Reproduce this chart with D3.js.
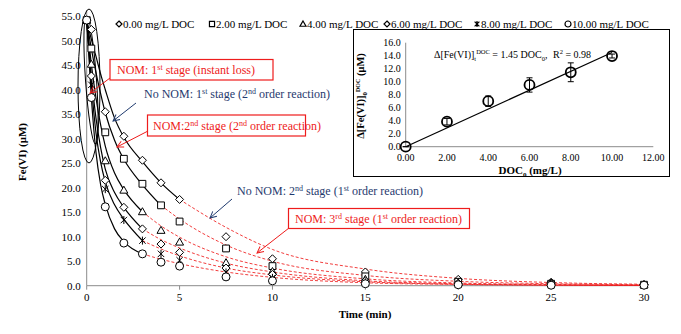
<!DOCTYPE html>
<html>
<head>
<meta charset="utf-8">
<script src="https://cdn.jsdelivr.net/npm/d3@7"></script>
<style>
  body { margin: 0; background: #fff; }
  svg { display: block; }
  svg text { font-family: "Liberation Serif", "Times New Roman", Times, "DejaVu Serif", serif; }
</style>
</head>
<body>
<svg id="chart" width="681" height="334"></svg>
<script>
// sampling times (min)
const times = [0, 0.25, 1, 2, 3, 4, 5, 7.5, 10, 15, 20, 25, 30];
const docLabels = ['0.00 mg/L DOC', '2.00 mg/L DOC', '4.00 mg/L DOC', '6.00 mg/L DOC', '8.00 mg/L DOC', '10.00 mg/L DOC'];
const markerKinds = ['diamond', 'square', 'triangle', 'diamond', 'asterisk', 'circle'];

// measured Fe(VI), uM
const fe0 = [54.2, 52.3, 35.5, 30.5, 25.6, 21.0, 17.6, 10.0, 5.5, 2.8, 1.3, 0.7, 0.2];
const fe2 = [54.2, 48.4, 31.3, 25.9, 20.8, 16.4, 13.1, 7.6, 4.0, 1.9, 0.8, 0.4, 0.2];
const fe4 = [54.2, 45.2, 25.5, 19.5, 15.1, 11.3, 8.9, 4.7, 2.9, 1.3, 0.6, 0.6, 0.2];
const fe6 = [54.2, 42.8, 21.5, 16.0, 11.6, 8.5, 6.8, 3.6, 2.3, 1.0, 0.5, 0.4, 0.2];
const fe8 = [54.2, 41.0, 19.7, 13.4, 9.2, 6.5, 5.2, 2.7, 1.6, 0.7, 0.3, 0.2, 0.1];
const fe10 = [54.2, 38.4, 16.1, 8.7, 6.5, 4.8, 4.0, 1.8, 1.0, 0.4, 0.2, 0.1, 0.1];

// early-stage fitted curves (solid black), [time, Fe(VI)]
const fit0 = [[0, 54.2], [0.25, 50.3], [0.5, 46.8], [0.8, 42.5], [1, 40.0], [1.5, 34.2], [2, 30.3], [3, 25.3], [4, 21.0], [5, 17.6]];
const fit2 = [[0, 54.2], [0.25, 48.4], [0.5, 43.5], [0.75, 39.2], [1, 35.3], [1.5, 29.7], [2, 25.8], [3, 20.6], [4, 16.4]];
const fit4 = [[0, 54.2], [0.25, 45.2], [0.5, 38.3], [0.75, 32.8], [1, 28.5], [1.5, 23.0], [2, 19.6], [3, 15.1]];
const fit6 = [[0, 54.2], [0.25, 42.8], [0.5, 34.2], [0.75, 28.2], [1, 23.8], [1.5, 19.0], [2, 16.0], [3, 11.6]];
const fit8 = [[0, 54.2], [0.25, 41.0], [0.5, 31.2], [0.75, 25.2], [1, 21.2], [1.5, 16.5], [2, 13.6], [3, 9.2]];
const fit10 = [[0, 54.2], [0.25, 38.4], [0.5, 27.2], [0.75, 20.6], [1, 16.6], [1.5, 11.6], [2, 9.0], [3, 6.5]];

// later-stage first-order curves (red dashed)
const tail0 = [[5, 17.6], [7.5, 11.9], [10, 7.4], [15, 3.4], [20, 1.5], [25, 0.65], [30, 0.3]];
const tail2 = [[4, 16.4], [5, 13.6], [7.5, 8.3], [10, 5.0], [15, 2.1], [20, 0.9], [25, 0.4], [30, 0.2]];
const tail4 = [[3, 15.1], [4, 12.2], [5, 9.9], [7.5, 5.9], [10, 3.6], [15, 1.4], [20, 0.55], [25, 0.25], [30, 0.1]];
const tail6 = [[3, 11.6], [4, 9.4], [5, 7.7], [7.5, 4.6], [10, 2.8], [15, 1.0], [20, 0.4], [25, 0.15], [30, 0.06]];
const tail8 = [[3, 9.2], [4, 7.5], [5, 6.1], [7.5, 3.6], [10, 2.2], [15, 0.8], [20, 0.3], [25, 0.1], [30, 0.05]];
const tail10 = [[3, 6.5], [4, 5.4], [5, 4.5], [7.5, 2.8], [10, 1.7], [15, 0.6], [20, 0.25], [25, 0.1], [30, 0.04]];

const yTicks = [0, 5, 10, 15, 20, 25, 30, 35, 40, 45, 50, 55];
const xTicks = [0, 5, 10, 15, 20, 25, 30];

// inset: Fe(VI) lost in the instant stage vs. initial DOC
const insetDoc = [0, 2, 4, 6, 8, 10];
const insetLoss = [0, 3.85, 7.0, 9.5, 11.45, 13.95];
const insetErr = [0, 0.5, 0.8, 1.1, 1.45, 0.3];
const insetSlope = 1.45;
const insetYTicks = [0, 2, 4, 6, 8, 10, 12, 14, 16];
const insetXTicks = [0, 2, 4, 6, 8, 10, 12];

const series = [fe0, fe2, fe4, fe6, fe8, fe10];
const fits = [fit0, fit2, fit4, fit6, fit8, fit10];
const tails = [tail0, tail2, tail4, tail6, tail8, tail10];

const svg = d3.select('#chart');
const RED = '#ee1c1c';
const NAVY = '#1f3a6e';
const AXIS = '#8c8c8c';

const x = d3.scaleLinear().domain([0, 30]).range([86.7, 644]);
const y = d3.scaleLinear().domain([0, 55]).range([285.7, 16.2]);

function markerPath(kind, s) {
  switch (kind) {
    case 'diamond':
      return `M0,${-s}L${s},0L0,${s}L${-s},0Z`;
    case 'square':
      return `M${-s * 0.85},${-s * 0.85}H${s * 0.85}V${s * 0.85}H${-s * 0.85}Z`;
    case 'triangle':
      return `M0,${-s}L${s},${s * 0.75}L${-s},${s * 0.75}Z`;
    case 'asterisk':
      return `M${-s * 0.8},${-s * 0.8}L${s * 0.8},${s * 0.8}M${-s * 0.8},${s * 0.8}L${s * 0.8},${-s * 0.8}M0,${-s}L0,${s}`;
    default:
      return d3.arc()({ innerRadius: 0, outerRadius: s, startAngle: 0, endAngle: 2 * Math.PI });
  }
}

svg.append('defs').selectAll('marker')
  .data([['arrRed', RED], ['arrNavy', NAVY]])
  .join('marker')
  .attr('id', (d) => d[0])
  .attr('viewBox', '0 0 10 10')
  .attr('refX', 9)
  .attr('refY', 5)
  .attr('markerWidth', 8)
  .attr('markerHeight', 8)
  .attr('orient', 'auto')
  .append('path')
  .attr('d', 'M1,1L9,5L1,9')
  .attr('fill', 'none')
  .attr('stroke', (d) => d[1])
  .attr('stroke-width', 1.2);

// axes
const main = svg.append('g');
main.append('line').attr('x1', x(0)).attr('x2', x(0)).attr('y1', y(55) - 6).attr('y2', y(0)).attr('stroke', AXIS);
main.append('line').attr('x1', x(0)).attr('x2', x(30)).attr('y1', y(0)).attr('y2', y(0)).attr('stroke', AXIS);

main.selectAll('.xt')
  .data(xTicks)
  .join('line')
  .attr('x1', (d) => x(d)).attr('x2', (d) => x(d))
  .attr('y1', y(0)).attr('y2', y(0) + 4)
  .attr('stroke', AXIS);

main.selectAll('.xl')
  .data(xTicks)
  .join('text')
  .attr('x', (d) => x(d))
  .attr('y', y(0) + 15)
  .attr('text-anchor', 'middle')
  .attr('font-size', 11)
  .text((d) => d);

main.selectAll('.yl')
  .data(yTicks)
  .join('text')
  .attr('x', x(0) - 6)
  .attr('y', (d) => y(d) + 4)
  .attr('text-anchor', 'end')
  .attr('font-size', 11)
  .text((d) => d3.format('.1f')(d));

svg.append('text')
  .attr('transform', `translate(26,152) rotate(-90)`)
  .attr('text-anchor', 'middle')
  .attr('font-size', 11)
  .attr('font-weight', 'bold')
  .text('Fe(VI) (μM)');

svg.append('text')
  .attr('x', 365)
  .attr('y', 318)
  .attr('text-anchor', 'middle')
  .attr('font-size', 11)
  .attr('font-weight', 'bold')
  .text('Time (min)');

// curves
const curve = d3.line().x((d) => x(d[0])).y((d) => y(d[1])).curve(d3.curveMonotoneX);

svg.append('g')
  .selectAll('path')
  .data(tails)
  .join('path')
  .attr('d', curve)
  .attr('fill', 'none')
  .attr('stroke', RED)
  .attr('stroke-opacity', 0.85)
  .attr('stroke-width', 1)
  .attr('stroke-dasharray', '3,2');

svg.append('g')
  .selectAll('path')
  .data(fits)
  .join('path')
  .attr('d', curve)
  .attr('fill', 'none')
  .attr('stroke', '#000')
  .attr('stroke-width', 1.2);

// ellipses around the instant-loss stage
svg.append('ellipse')
  .attr('cx', 89).attr('cy', 86).attr('rx', 11).attr('ry', 77)
  .attr('fill', 'none').attr('stroke', '#000').attr('stroke-width', 1);
svg.append('ellipse')
  .attr('transform', 'translate(91,80) rotate(-4)')
  .attr('rx', 5.5).attr('ry', 64)
  .attr('fill', 'none').attr('stroke', '#000').attr('stroke-width', 1);

// points
series.forEach((vals, i) => {
  svg.append('g')
    .selectAll('path')
    .data(vals.map((v, j) => [times[j], v]))
    .join('path')
    .attr('transform', (d) => `translate(${x(d[0])},${y(d[1])})`)
    .attr('d', markerPath(markerKinds[i], 4))
    .attr('fill', markerKinds[i] === 'asterisk' ? 'none' : '#fff')
    .attr('stroke', '#000')
    .attr('stroke-width', 1);
});

// legend
const legendX = [119, 212, 303, 387, 477, 568];
const legend = svg.append('g').selectAll('g')
  .data(docLabels)
  .join('g')
  .attr('transform', (d, i) => `translate(${legendX[i]},24)`);
legend.append('path')
  .attr('d', (d, i) => markerPath(markerKinds[i], 3))
  .attr('fill', (d, i) => markerKinds[i] === 'asterisk' ? 'none' : '#fff')
  .attr('stroke', '#000')
  .attr('stroke-width', 1.2);
legend.append('text')
  .attr('x', 4)
  .attr('y', 4)
  .attr('font-size', 11)
  .text((d) => d);

// annotation text: plain strings plus {sup} pieces
function label(g, xPos, yPos, color, parts) {
  const t = g.append('text').attr('x', xPos).attr('y', yPos).attr('font-size', 12).attr('fill', color);
  let raised = false;
  parts.forEach((p) => {
    if (typeof p === 'string') {
      t.append('tspan').attr('dy', raised ? 4 : 0).text(p);
      raised = false;
    } else {
      t.append('tspan').attr('dy', -4).attr('font-size', 8).text(p.sup);
      raised = true;
    }
  });
  return t;
}

const ann = svg.append('g');
ann.append('rect').attr('x', 110).attr('y', 59.5).attr('width', 163).attr('height', 20.5)
  .attr('fill', '#fff').attr('stroke', RED).attr('stroke-width', 1.2);
label(ann, 117, 74, RED, ['NOM: 1', { sup: 'st' }, ' stage (instant loss)']);
ann.append('line').attr('x1', 110).attr('y1', 78).attr('x2', 90).attr('y2', 93)
  .attr('stroke', RED).attr('marker-end', 'url(#arrRed)');

label(ann, 144, 98, NAVY, ['No NOM: 1', { sup: 'st' }, ' stage (2', { sup: 'nd' }, ' order reaction)']);
ann.append('line').attr('x1', 136).attr('y1', 103).attr('x2', 113).attr('y2', 121)
  .attr('stroke', NAVY).attr('marker-end', 'url(#arrNavy)');

ann.append('rect').attr('x', 147.5).attr('y', 115).attr('width', 158).attr('height', 21)
  .attr('fill', '#fff').attr('stroke', RED).attr('stroke-width', 1.2);
label(ann, 153, 130, RED, ['NOM:2', { sup: 'nd' }, ' stage (2', { sup: 'nd' }, ' order reaction)']);
ann.append('line').attr('x1', 148).attr('y1', 131).attr('x2', 117).attr('y2', 147)
  .attr('stroke', RED).attr('marker-end', 'url(#arrRed)');

label(ann, 237, 195, NAVY, ['No NOM: 2', { sup: 'nd' }, ' stage (1', { sup: 'st' }, ' order reaction)']);
ann.append('line').attr('x1', 232).attr('y1', 199).attr('x2', 210).attr('y2', 218)
  .attr('stroke', NAVY).attr('marker-end', 'url(#arrNavy)');

ann.append('rect').attr('x', 288.5).attr('y', 208.5).attr('width', 181).attr('height', 20)
  .attr('fill', '#fff').attr('stroke', RED).attr('stroke-width', 1.2);
label(ann, 295, 223, RED, ['NOM: 3', { sup: 'rd' }, ' stage (1', { sup: 'st' }, ' order reaction)']);
ann.append('line').attr('x1', 289).attr('y1', 228).attr('x2', 257).attr('y2', 253)
  .attr('stroke', RED).attr('marker-end', 'url(#arrRed)');

// inset chart
const inset = svg.append('g');
inset.append('rect').attr('x', 353.5).attr('y', 29.5).attr('width', 316).attr('height', 147)
  .attr('fill', '#fff').attr('stroke', '#000').attr('stroke-width', 1);

const ix = d3.scaleLinear().domain([0, 12]).range([405.7, 653.3]);
const iy = d3.scaleLinear().domain([0, 16]).range([146.7, 42.7]);

inset.append('line').attr('x1', ix(0)).attr('x2', ix(0)).attr('y1', iy(16)).attr('y2', iy(0)).attr('stroke', AXIS);
inset.append('line').attr('x1', ix(0)).attr('x2', ix(12)).attr('y1', iy(0)).attr('y2', iy(0)).attr('stroke', AXIS);

inset.selectAll('.iyl')
  .data(insetYTicks)
  .join('text')
  .attr('x', ix(0) - 5)
  .attr('y', (d) => iy(d) + 3.5)
  .attr('text-anchor', 'end')
  .attr('font-size', 10)
  .text((d) => d3.format('.1f')(d));

inset.selectAll('.ixl')
  .data(insetXTicks)
  .join('text')
  .attr('x', (d) => ix(d))
  .attr('y', iy(0) + 14)
  .attr('text-anchor', 'middle')
  .attr('font-size', 10)
  .text((d) => d3.format('.2f')(d));

const ixTitle = inset.append('text')
  .attr('x', 530).attr('y', 174)
  .attr('text-anchor', 'middle')
  .attr('font-size', 11)
  .attr('font-weight', 'bold');
ixTitle.append('tspan').text('DOC');
ixTitle.append('tspan').attr('dy', 3).attr('font-size', 7).text('0');
ixTitle.append('tspan').attr('dy', -3).text(' (mg/L)');

const iyTitle = inset.append('text')
  .attr('transform', 'translate(364,96) rotate(-90)')
  .attr('text-anchor', 'middle')
  .attr('font-size', 10.5)
  .attr('font-weight', 'bold');
iyTitle.append('tspan').text('Δ[Fe(VI)]');
iyTitle.append('tspan').attr('dy', 3).attr('font-size', 7).text('0');
iyTitle.append('tspan').attr('dy', -7).attr('font-size', 6).text('DOC');
iyTitle.append('tspan').attr('dy', 4).text(' (μM)');

const eq = inset.append('text').attr('x', 434).attr('y', 58).attr('font-size', 10);
eq.append('tspan').text('Δ[Fe(VI)]');
eq.append('tspan').attr('dy', 3).attr('font-size', 6.5).text('t');
eq.append('tspan').attr('dy', -7).attr('font-size', 6.5).text('DOC');
eq.append('tspan').attr('dy', 4).text(' = 1.45 DOC');
eq.append('tspan').attr('dy', 3).attr('font-size', 6.5).text('0');
eq.append('tspan').attr('dy', -3).text(',');
eq.append('tspan').attr('x', 553).text('R');
eq.append('tspan').attr('dy', -4).attr('font-size', 6.5).text('2');
eq.append('tspan').attr('dy', 4).text(' = 0.98');

// regression line
inset.append('line')
  .attr('x1', ix(0)).attr('y1', iy(0))
  .attr('x2', ix(10)).attr('y2', iy(insetSlope * 10))
  .attr('stroke', '#000').attr('stroke-width', 1.2);

const iPts = inset.append('g').selectAll('g')
  .data(insetDoc.map((d, i) => ({ doc: d, loss: insetLoss[i], err: insetErr[i] })))
  .join('g');
iPts.append('path')
  .attr('d', (d) => `M${ix(d.doc)},${iy(d.loss + d.err)}V${iy(d.loss - d.err)}` +
    `M${ix(d.doc) - 3},${iy(d.loss + d.err)}h6M${ix(d.doc) - 3},${iy(d.loss - d.err)}h6`)
  .attr('stroke', '#000').attr('fill', 'none');
iPts.append('circle')
  .attr('cx', (d) => ix(d.doc))
  .attr('cy', (d) => iy(d.loss))
  .attr('r', 5)
  .attr('fill', 'none')
  .attr('stroke', '#000')
  .attr('stroke-width', 1.8);
</script>
</body>
</html>
